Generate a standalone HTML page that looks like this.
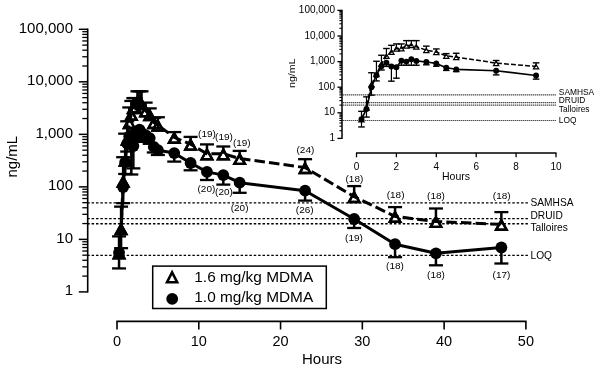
<!DOCTYPE html>
<html><head><meta charset="utf-8"><style>
html,body{margin:0;padding:0;background:#fff;}
svg{display:block;filter:grayscale(1);}
</style></head><body>
<svg width="600" height="372" viewBox="0 0 600 372">
<rect width="600" height="372" fill="#fff"/>
<line x1="87.7" y1="28.60" x2="87.7" y2="292.60" stroke="#000" stroke-width="1.6"/>
<line x1="78.8" y1="291.90" x2="87.7" y2="291.90" stroke="#000" stroke-width="1.5"/>
<line x1="82.3" y1="276.09" x2="87.7" y2="276.09" stroke="#000" stroke-width="1.3"/>
<line x1="82.3" y1="266.84" x2="87.7" y2="266.84" stroke="#000" stroke-width="1.3"/>
<line x1="82.3" y1="260.28" x2="87.7" y2="260.28" stroke="#000" stroke-width="1.3"/>
<line x1="82.3" y1="255.19" x2="87.7" y2="255.19" stroke="#000" stroke-width="1.3"/>
<line x1="82.3" y1="251.03" x2="87.7" y2="251.03" stroke="#000" stroke-width="1.3"/>
<line x1="82.3" y1="247.52" x2="87.7" y2="247.52" stroke="#000" stroke-width="1.3"/>
<line x1="82.3" y1="244.47" x2="87.7" y2="244.47" stroke="#000" stroke-width="1.3"/>
<line x1="82.3" y1="241.78" x2="87.7" y2="241.78" stroke="#000" stroke-width="1.3"/>
<line x1="78.8" y1="239.38" x2="87.7" y2="239.38" stroke="#000" stroke-width="1.5"/>
<line x1="82.3" y1="223.57" x2="87.7" y2="223.57" stroke="#000" stroke-width="1.3"/>
<line x1="82.3" y1="214.32" x2="87.7" y2="214.32" stroke="#000" stroke-width="1.3"/>
<line x1="82.3" y1="207.76" x2="87.7" y2="207.76" stroke="#000" stroke-width="1.3"/>
<line x1="82.3" y1="202.67" x2="87.7" y2="202.67" stroke="#000" stroke-width="1.3"/>
<line x1="82.3" y1="198.51" x2="87.7" y2="198.51" stroke="#000" stroke-width="1.3"/>
<line x1="82.3" y1="195.00" x2="87.7" y2="195.00" stroke="#000" stroke-width="1.3"/>
<line x1="82.3" y1="191.95" x2="87.7" y2="191.95" stroke="#000" stroke-width="1.3"/>
<line x1="82.3" y1="189.26" x2="87.7" y2="189.26" stroke="#000" stroke-width="1.3"/>
<line x1="78.8" y1="186.86" x2="87.7" y2="186.86" stroke="#000" stroke-width="1.5"/>
<line x1="82.3" y1="171.05" x2="87.7" y2="171.05" stroke="#000" stroke-width="1.3"/>
<line x1="82.3" y1="161.80" x2="87.7" y2="161.80" stroke="#000" stroke-width="1.3"/>
<line x1="82.3" y1="155.24" x2="87.7" y2="155.24" stroke="#000" stroke-width="1.3"/>
<line x1="82.3" y1="150.15" x2="87.7" y2="150.15" stroke="#000" stroke-width="1.3"/>
<line x1="82.3" y1="145.99" x2="87.7" y2="145.99" stroke="#000" stroke-width="1.3"/>
<line x1="82.3" y1="142.48" x2="87.7" y2="142.48" stroke="#000" stroke-width="1.3"/>
<line x1="82.3" y1="139.43" x2="87.7" y2="139.43" stroke="#000" stroke-width="1.3"/>
<line x1="82.3" y1="136.74" x2="87.7" y2="136.74" stroke="#000" stroke-width="1.3"/>
<line x1="78.8" y1="134.34" x2="87.7" y2="134.34" stroke="#000" stroke-width="1.5"/>
<line x1="82.3" y1="118.53" x2="87.7" y2="118.53" stroke="#000" stroke-width="1.3"/>
<line x1="82.3" y1="109.28" x2="87.7" y2="109.28" stroke="#000" stroke-width="1.3"/>
<line x1="82.3" y1="102.72" x2="87.7" y2="102.72" stroke="#000" stroke-width="1.3"/>
<line x1="82.3" y1="97.63" x2="87.7" y2="97.63" stroke="#000" stroke-width="1.3"/>
<line x1="82.3" y1="93.47" x2="87.7" y2="93.47" stroke="#000" stroke-width="1.3"/>
<line x1="82.3" y1="89.96" x2="87.7" y2="89.96" stroke="#000" stroke-width="1.3"/>
<line x1="82.3" y1="86.91" x2="87.7" y2="86.91" stroke="#000" stroke-width="1.3"/>
<line x1="82.3" y1="84.22" x2="87.7" y2="84.22" stroke="#000" stroke-width="1.3"/>
<line x1="78.8" y1="81.82" x2="87.7" y2="81.82" stroke="#000" stroke-width="1.5"/>
<line x1="82.3" y1="66.01" x2="87.7" y2="66.01" stroke="#000" stroke-width="1.3"/>
<line x1="82.3" y1="56.76" x2="87.7" y2="56.76" stroke="#000" stroke-width="1.3"/>
<line x1="82.3" y1="50.20" x2="87.7" y2="50.20" stroke="#000" stroke-width="1.3"/>
<line x1="82.3" y1="45.11" x2="87.7" y2="45.11" stroke="#000" stroke-width="1.3"/>
<line x1="82.3" y1="40.95" x2="87.7" y2="40.95" stroke="#000" stroke-width="1.3"/>
<line x1="82.3" y1="37.44" x2="87.7" y2="37.44" stroke="#000" stroke-width="1.3"/>
<line x1="82.3" y1="34.39" x2="87.7" y2="34.39" stroke="#000" stroke-width="1.3"/>
<line x1="82.3" y1="31.70" x2="87.7" y2="31.70" stroke="#000" stroke-width="1.3"/>
<line x1="78.8" y1="29.30" x2="87.7" y2="29.30" stroke="#000" stroke-width="1.5"/>
<text x="73" y="295.10" text-anchor="end" font-size="15" font-family="'Liberation Sans', sans-serif">1</text>
<text x="73" y="242.58" text-anchor="end" font-size="15" font-family="'Liberation Sans', sans-serif">10</text>
<text x="73" y="190.06" text-anchor="end" font-size="15" font-family="'Liberation Sans', sans-serif">100</text>
<text x="73" y="137.54" text-anchor="end" font-size="15" font-family="'Liberation Sans', sans-serif">1,000</text>
<text x="73" y="85.02" text-anchor="end" font-size="15" font-family="'Liberation Sans', sans-serif">10,000</text>
<text x="73" y="32.50" text-anchor="end" font-size="15" font-family="'Liberation Sans', sans-serif">100,000</text>
<text transform="translate(17.2,156.7) rotate(-90)" text-anchor="middle" font-size="15" font-family="'Liberation Sans', sans-serif">ng/mL</text>
<line x1="116.30" y1="321.4" x2="526.60" y2="321.4" stroke="#000" stroke-width="1.6"/>
<line x1="117.00" y1="321.4" x2="117.00" y2="329.5" stroke="#000" stroke-width="1.6"/>
<text x="117.00" y="346" text-anchor="middle" font-size="14.5" font-family="'Liberation Sans', sans-serif">0</text>
<line x1="198.78" y1="321.4" x2="198.78" y2="329.5" stroke="#000" stroke-width="1.6"/>
<text x="198.78" y="346" text-anchor="middle" font-size="14.5" font-family="'Liberation Sans', sans-serif">10</text>
<line x1="280.56" y1="321.4" x2="280.56" y2="329.5" stroke="#000" stroke-width="1.6"/>
<text x="280.56" y="346" text-anchor="middle" font-size="14.5" font-family="'Liberation Sans', sans-serif">20</text>
<line x1="362.34" y1="321.4" x2="362.34" y2="329.5" stroke="#000" stroke-width="1.6"/>
<text x="362.34" y="346" text-anchor="middle" font-size="14.5" font-family="'Liberation Sans', sans-serif">30</text>
<line x1="444.12" y1="321.4" x2="444.12" y2="329.5" stroke="#000" stroke-width="1.6"/>
<text x="444.12" y="346" text-anchor="middle" font-size="14.5" font-family="'Liberation Sans', sans-serif">40</text>
<line x1="525.90" y1="321.4" x2="525.90" y2="329.5" stroke="#000" stroke-width="1.6"/>
<text x="525.90" y="346" text-anchor="middle" font-size="14.5" font-family="'Liberation Sans', sans-serif">50</text>
<text x="322" y="364.4" text-anchor="middle" font-size="15" font-family="'Liberation Sans', sans-serif">Hours</text>
<line x1="87.22" y1="202.87" x2="527.9" y2="202.87" stroke="#000" stroke-width="1.3" stroke-dasharray="2.5,1.882"/>
<text x="530.5" y="205.6" font-size="10.2" font-family="'Liberation Sans', sans-serif">SAMHSA</text>
<line x1="87.22" y1="218.68" x2="527.9" y2="218.68" stroke="#000" stroke-width="1.3" stroke-dasharray="2.5,1.882"/>
<text x="530.5" y="219.3" font-size="10.2" font-family="'Liberation Sans', sans-serif">DRUID</text>
<line x1="87.22" y1="223.77" x2="527.9" y2="223.77" stroke="#000" stroke-width="1.3" stroke-dasharray="2.5,1.882"/>
<text x="530.5" y="230.7" font-size="10.2" font-family="'Liberation Sans', sans-serif">Talloires</text>
<line x1="87.22" y1="255.39" x2="527.9" y2="255.39" stroke="#000" stroke-width="1.3" stroke-dasharray="2.5,1.882"/>
<text x="530.5" y="258.8" font-size="10.2" font-family="'Liberation Sans', sans-serif">LOQ</text>
<polygon points="119.04,248.90 124.31,258.42 113.78,258.42" fill="#fff" stroke="#000" stroke-width="2.4" stroke-linejoin="miter" stroke-miterlimit="10"/>
<polygon points="121.09,224.54 126.35,234.06 115.82,234.06" fill="#fff" stroke="#000" stroke-width="2.4" stroke-linejoin="miter" stroke-miterlimit="10"/>
<polygon points="123.13,177.11 128.40,186.63 117.87,186.63" fill="#fff" stroke="#000" stroke-width="2.4" stroke-linejoin="miter" stroke-miterlimit="10"/>
<polygon points="125.18,156.00 130.44,165.52 119.91,165.52" fill="#fff" stroke="#000" stroke-width="2.4" stroke-linejoin="miter" stroke-miterlimit="10"/>
<polygon points="127.22,135.03 132.49,144.55 121.96,144.55" fill="#fff" stroke="#000" stroke-width="2.4" stroke-linejoin="miter" stroke-miterlimit="10"/>
<polygon points="129.27,118.52 134.53,128.04 124.00,128.04" fill="#fff" stroke="#000" stroke-width="2.4" stroke-linejoin="miter" stroke-miterlimit="10"/>
<polygon points="131.31,110.16 136.58,119.68 126.05,119.68" fill="#fff" stroke="#000" stroke-width="2.4" stroke-linejoin="miter" stroke-miterlimit="10"/>
<polygon points="133.36,103.48 138.62,113.00 128.09,113.00" fill="#fff" stroke="#000" stroke-width="2.4" stroke-linejoin="miter" stroke-miterlimit="10"/>
<polygon points="135.40,102.99 140.67,112.51 130.14,112.51" fill="#fff" stroke="#000" stroke-width="2.4" stroke-linejoin="miter" stroke-miterlimit="10"/>
<polygon points="137.44,97.65 142.71,107.17 132.18,107.17" fill="#fff" stroke="#000" stroke-width="2.4" stroke-linejoin="miter" stroke-miterlimit="10"/>
<polygon points="139.49,96.53 144.75,106.05 134.22,106.05" fill="#fff" stroke="#000" stroke-width="2.4" stroke-linejoin="miter" stroke-miterlimit="10"/>
<polygon points="141.53,99.59 146.80,109.11 136.27,109.11" fill="#fff" stroke="#000" stroke-width="2.4" stroke-linejoin="miter" stroke-miterlimit="10"/>
<polygon points="145.62,106.73 150.89,116.26 140.36,116.26" fill="#fff" stroke="#000" stroke-width="2.4" stroke-linejoin="miter" stroke-miterlimit="10"/>
<polygon points="149.71,110.63 154.98,120.15 144.45,120.15" fill="#fff" stroke="#000" stroke-width="2.4" stroke-linejoin="miter" stroke-miterlimit="10"/>
<polygon points="153.80,118.45 159.07,127.97 148.54,127.97" fill="#fff" stroke="#000" stroke-width="2.4" stroke-linejoin="miter" stroke-miterlimit="10"/>
<polygon points="157.89,120.97 163.16,130.49 152.62,130.49" fill="#fff" stroke="#000" stroke-width="2.4" stroke-linejoin="miter" stroke-miterlimit="10"/>
<polygon points="174.25,133.28 179.51,142.80 168.98,142.80" fill="#fff" stroke="#000" stroke-width="2.4" stroke-linejoin="miter" stroke-miterlimit="10"/>
<polygon points="190.60,140.08 195.87,149.60 185.34,149.60" fill="#fff" stroke="#000" stroke-width="2.4" stroke-linejoin="miter" stroke-miterlimit="10"/>
<polygon points="206.96,149.68 212.22,159.20 201.69,159.20" fill="#fff" stroke="#000" stroke-width="2.4" stroke-linejoin="miter" stroke-miterlimit="10"/>
<polygon points="223.31,149.68 228.58,159.20 218.05,159.20" fill="#fff" stroke="#000" stroke-width="2.4" stroke-linejoin="miter" stroke-miterlimit="10"/>
<polygon points="239.67,154.38 244.94,163.90 234.40,163.90" fill="#fff" stroke="#000" stroke-width="2.4" stroke-linejoin="miter" stroke-miterlimit="10"/>
<polygon points="305.09,163.48 310.36,173.00 299.83,173.00" fill="#fff" stroke="#000" stroke-width="2.4" stroke-linejoin="miter" stroke-miterlimit="10"/>
<polygon points="354.16,192.48 359.43,202.00 348.90,202.00" fill="#fff" stroke="#000" stroke-width="2.4" stroke-linejoin="miter" stroke-miterlimit="10"/>
<polygon points="395.05,212.28 400.32,221.80 389.79,221.80" fill="#fff" stroke="#000" stroke-width="2.4" stroke-linejoin="miter" stroke-miterlimit="10"/>
<polygon points="435.94,217.38 441.21,226.90 430.68,226.90" fill="#fff" stroke="#000" stroke-width="2.4" stroke-linejoin="miter" stroke-miterlimit="10"/>
<polygon points="501.37,220.28 506.63,229.80 496.10,229.80" fill="#fff" stroke="#000" stroke-width="2.4" stroke-linejoin="miter" stroke-miterlimit="10"/>
<polyline points="119.04,253.02 121.09,228.66 123.13,181.23 125.18,160.12 127.22,139.15 129.27,122.64 131.31,114.28 133.36,107.60 135.40,107.11 137.44,101.77 139.49,100.65 141.53,103.71 145.62,110.86 149.71,114.75 153.80,122.57 157.89,125.09 174.25,137.40 190.60,144.20 206.96,153.80 223.31,153.80 239.67,158.50 305.09,167.60 354.16,196.60 395.05,216.40 435.94,221.50 501.37,224.40" fill="none" stroke="#000" stroke-width="3" stroke-dasharray="10.5,4.15" stroke-dashoffset="14.39" stroke-linejoin="round"/>
<polyline points="119.04,252.61 121.09,231.71 123.13,187.09 125.18,162.18 127.22,143.65 129.27,136.49 131.31,144.52 133.36,145.99 135.40,132.37 137.44,134.34 139.49,129.62 141.53,132.90 145.62,135.15 149.71,138.05 153.80,146.88 157.89,150.20 174.25,153.10 190.60,163.00 206.96,171.90 223.31,175.10 239.67,182.70 305.09,190.70 354.16,219.00 395.05,244.20 435.94,253.30 501.37,247.50" fill="none" stroke="#000" stroke-width="3" stroke-linejoin="round"/>
<line x1="119.04" y1="253.02" x2="119.04" y2="236.39" stroke="#000" stroke-width="2.5"/><line x1="112.04" y1="236.39" x2="126.04" y2="236.39" stroke="#000" stroke-width="2.3"/>
<line x1="121.09" y1="228.66" x2="121.09" y2="206.65" stroke="#000" stroke-width="2.5"/><line x1="114.09" y1="206.65" x2="128.09" y2="206.65" stroke="#000" stroke-width="2.3"/>
<line x1="123.13" y1="181.23" x2="123.13" y2="157.20" stroke="#000" stroke-width="2.5"/><line x1="116.13" y1="157.20" x2="130.13" y2="157.20" stroke="#000" stroke-width="2.3"/>
<line x1="125.18" y1="160.12" x2="125.18" y2="133.67" stroke="#000" stroke-width="2.5"/><line x1="118.18" y1="133.67" x2="132.18" y2="133.67" stroke="#000" stroke-width="2.3"/>
<line x1="127.22" y1="139.15" x2="127.22" y2="121.32" stroke="#000" stroke-width="2.5"/><line x1="120.22" y1="121.32" x2="134.22" y2="121.32" stroke="#000" stroke-width="2.3"/>
<line x1="129.27" y1="122.64" x2="129.27" y2="107.46" stroke="#000" stroke-width="2.5"/><line x1="122.27" y1="107.46" x2="136.27" y2="107.46" stroke="#000" stroke-width="2.3"/>
<line x1="131.31" y1="114.28" x2="131.31" y2="100.96" stroke="#000" stroke-width="2.5"/><line x1="124.31" y1="100.96" x2="138.31" y2="100.96" stroke="#000" stroke-width="2.3"/>
<line x1="133.36" y1="107.60" x2="133.36" y2="98.09" stroke="#000" stroke-width="2.5"/><line x1="126.36" y1="98.09" x2="140.36" y2="98.09" stroke="#000" stroke-width="2.3"/>
<line x1="135.40" y1="107.11" x2="135.40" y2="98.09" stroke="#000" stroke-width="2.5"/><line x1="128.40" y1="98.09" x2="142.40" y2="98.09" stroke="#000" stroke-width="2.3"/>
<line x1="137.44" y1="101.77" x2="137.44" y2="91.30" stroke="#000" stroke-width="2.5"/><line x1="130.44" y1="91.30" x2="144.44" y2="91.30" stroke="#000" stroke-width="2.3"/>
<line x1="139.49" y1="100.65" x2="139.49" y2="91.30" stroke="#000" stroke-width="2.5"/><line x1="132.49" y1="91.30" x2="146.49" y2="91.30" stroke="#000" stroke-width="2.3"/>
<line x1="141.53" y1="103.71" x2="141.53" y2="91.30" stroke="#000" stroke-width="2.5"/><line x1="134.53" y1="91.30" x2="148.53" y2="91.30" stroke="#000" stroke-width="2.3"/>
<line x1="145.62" y1="110.86" x2="145.62" y2="102.61" stroke="#000" stroke-width="2.5"/><line x1="138.62" y1="102.61" x2="152.62" y2="102.61" stroke="#000" stroke-width="2.3"/>
<line x1="149.71" y1="114.75" x2="149.71" y2="108.39" stroke="#000" stroke-width="2.5"/><line x1="142.71" y1="108.39" x2="156.71" y2="108.39" stroke="#000" stroke-width="2.3"/>
<line x1="153.80" y1="122.57" x2="153.80" y2="117.97" stroke="#000" stroke-width="2.5"/><line x1="146.80" y1="117.97" x2="160.80" y2="117.97" stroke="#000" stroke-width="2.3"/>
<line x1="157.89" y1="125.09" x2="157.89" y2="117.25" stroke="#000" stroke-width="2.5"/><line x1="150.89" y1="117.25" x2="164.89" y2="117.25" stroke="#000" stroke-width="2.3"/>
<line x1="174.25" y1="137.40" x2="174.25" y2="132.10" stroke="#000" stroke-width="2.5"/><line x1="167.25" y1="132.10" x2="181.25" y2="132.10" stroke="#000" stroke-width="2.3"/>
<line x1="190.60" y1="144.20" x2="190.60" y2="136.90" stroke="#000" stroke-width="2.5"/><line x1="183.60" y1="136.90" x2="197.60" y2="136.90" stroke="#000" stroke-width="2.3"/>
<line x1="206.96" y1="153.80" x2="206.96" y2="144.40" stroke="#000" stroke-width="2.5"/><line x1="199.96" y1="144.40" x2="213.96" y2="144.40" stroke="#000" stroke-width="2.3"/>
<line x1="223.31" y1="153.80" x2="223.31" y2="146.50" stroke="#000" stroke-width="2.5"/><line x1="216.31" y1="146.50" x2="230.31" y2="146.50" stroke="#000" stroke-width="2.3"/>
<line x1="239.67" y1="158.50" x2="239.67" y2="150.90" stroke="#000" stroke-width="2.5"/><line x1="232.67" y1="150.90" x2="246.67" y2="150.90" stroke="#000" stroke-width="2.3"/>
<line x1="305.09" y1="167.60" x2="305.09" y2="159.20" stroke="#000" stroke-width="2.5"/><line x1="298.09" y1="159.20" x2="312.09" y2="159.20" stroke="#000" stroke-width="2.3"/>
<line x1="354.16" y1="196.60" x2="354.16" y2="186.10" stroke="#000" stroke-width="2.5"/><line x1="347.16" y1="186.10" x2="361.16" y2="186.10" stroke="#000" stroke-width="2.3"/>
<line x1="395.05" y1="216.40" x2="395.05" y2="207.10" stroke="#000" stroke-width="2.5"/><line x1="388.05" y1="207.10" x2="402.05" y2="207.10" stroke="#000" stroke-width="2.3"/>
<line x1="435.94" y1="221.50" x2="435.94" y2="208.50" stroke="#000" stroke-width="2.5"/><line x1="428.94" y1="208.50" x2="442.94" y2="208.50" stroke="#000" stroke-width="2.3"/>
<line x1="501.37" y1="224.40" x2="501.37" y2="212.10" stroke="#000" stroke-width="2.5"/><line x1="494.37" y1="212.10" x2="508.37" y2="212.10" stroke="#000" stroke-width="2.3"/>
<line x1="119.04" y1="252.61" x2="119.04" y2="268.42" stroke="#000" stroke-width="2.5"/><line x1="112.04" y1="268.42" x2="126.04" y2="268.42" stroke="#000" stroke-width="2.3"/>
<line x1="121.09" y1="231.71" x2="121.09" y2="248.18" stroke="#000" stroke-width="2.5"/><line x1="114.09" y1="248.18" x2="128.09" y2="248.18" stroke="#000" stroke-width="2.3"/>
<line x1="123.13" y1="187.09" x2="123.13" y2="203.13" stroke="#000" stroke-width="2.5"/><line x1="116.13" y1="203.13" x2="130.13" y2="203.13" stroke="#000" stroke-width="2.3"/>
<line x1="125.18" y1="162.18" x2="125.18" y2="173.97" stroke="#000" stroke-width="2.5"/><line x1="118.18" y1="173.97" x2="132.18" y2="173.97" stroke="#000" stroke-width="2.3"/>
<line x1="127.22" y1="143.65" x2="127.22" y2="151.56" stroke="#000" stroke-width="2.5"/><line x1="120.22" y1="151.56" x2="134.22" y2="151.56" stroke="#000" stroke-width="2.3"/>
<line x1="129.27" y1="136.49" x2="129.27" y2="144.17" stroke="#000" stroke-width="2.5"/><line x1="122.27" y1="144.17" x2="136.27" y2="144.17" stroke="#000" stroke-width="2.3"/>
<line x1="131.31" y1="144.52" x2="131.31" y2="174.49" stroke="#000" stroke-width="2.5"/><line x1="124.31" y1="174.49" x2="138.31" y2="174.49" stroke="#000" stroke-width="2.3"/>
<line x1="133.36" y1="145.99" x2="133.36" y2="168.36" stroke="#000" stroke-width="2.5"/><line x1="126.36" y1="168.36" x2="140.36" y2="168.36" stroke="#000" stroke-width="2.3"/>
<line x1="135.40" y1="132.37" x2="135.40" y2="141.83" stroke="#000" stroke-width="2.5"/><line x1="128.40" y1="141.83" x2="142.40" y2="141.83" stroke="#000" stroke-width="2.3"/>
<line x1="137.44" y1="134.34" x2="137.44" y2="141.83" stroke="#000" stroke-width="2.5"/><line x1="130.44" y1="141.83" x2="144.44" y2="141.83" stroke="#000" stroke-width="2.3"/>
<line x1="139.49" y1="129.62" x2="139.49" y2="141.83" stroke="#000" stroke-width="2.5"/><line x1="132.49" y1="141.83" x2="146.49" y2="141.83" stroke="#000" stroke-width="2.3"/>
<line x1="141.53" y1="132.90" x2="141.53" y2="141.83" stroke="#000" stroke-width="2.5"/><line x1="134.53" y1="141.83" x2="148.53" y2="141.83" stroke="#000" stroke-width="2.3"/>
<line x1="145.62" y1="135.15" x2="145.62" y2="140.90" stroke="#000" stroke-width="2.5"/><line x1="138.62" y1="140.90" x2="152.62" y2="140.90" stroke="#000" stroke-width="2.3"/>
<line x1="149.71" y1="138.05" x2="149.71" y2="143.82" stroke="#000" stroke-width="2.5"/><line x1="142.71" y1="143.82" x2="156.71" y2="143.82" stroke="#000" stroke-width="2.3"/>
<line x1="153.80" y1="146.88" x2="153.80" y2="152.45" stroke="#000" stroke-width="2.5"/><line x1="146.80" y1="152.45" x2="160.80" y2="152.45" stroke="#000" stroke-width="2.3"/>
<line x1="157.89" y1="150.20" x2="157.89" y2="154.96" stroke="#000" stroke-width="2.5"/><line x1="150.89" y1="154.96" x2="164.89" y2="154.96" stroke="#000" stroke-width="2.3"/>
<line x1="174.25" y1="153.10" x2="174.25" y2="161.60" stroke="#000" stroke-width="2.5"/><line x1="167.25" y1="161.60" x2="181.25" y2="161.60" stroke="#000" stroke-width="2.3"/>
<line x1="190.60" y1="163.00" x2="190.60" y2="170.30" stroke="#000" stroke-width="2.5"/><line x1="183.60" y1="170.30" x2="197.60" y2="170.30" stroke="#000" stroke-width="2.3"/>
<line x1="206.96" y1="171.90" x2="206.96" y2="180.00" stroke="#000" stroke-width="2.5"/><line x1="199.96" y1="180.00" x2="213.96" y2="180.00" stroke="#000" stroke-width="2.3"/>
<line x1="223.31" y1="175.10" x2="223.31" y2="184.60" stroke="#000" stroke-width="2.5"/><line x1="216.31" y1="184.60" x2="230.31" y2="184.60" stroke="#000" stroke-width="2.3"/>
<line x1="239.67" y1="182.70" x2="239.67" y2="192.80" stroke="#000" stroke-width="2.5"/><line x1="232.67" y1="192.80" x2="246.67" y2="192.80" stroke="#000" stroke-width="2.3"/>
<line x1="305.09" y1="190.70" x2="305.09" y2="200.60" stroke="#000" stroke-width="2.5"/><line x1="298.09" y1="200.60" x2="312.09" y2="200.60" stroke="#000" stroke-width="2.3"/>
<line x1="354.16" y1="219.00" x2="354.16" y2="228.00" stroke="#000" stroke-width="2.5"/><line x1="347.16" y1="228.00" x2="361.16" y2="228.00" stroke="#000" stroke-width="2.3"/>
<line x1="395.05" y1="244.20" x2="395.05" y2="257.20" stroke="#000" stroke-width="2.5"/><line x1="388.05" y1="257.20" x2="402.05" y2="257.20" stroke="#000" stroke-width="2.3"/>
<line x1="435.94" y1="253.30" x2="435.94" y2="265.30" stroke="#000" stroke-width="2.5"/><line x1="428.94" y1="265.30" x2="442.94" y2="265.30" stroke="#000" stroke-width="2.3"/>
<line x1="501.37" y1="247.50" x2="501.37" y2="263.50" stroke="#000" stroke-width="2.5"/><line x1="494.37" y1="263.50" x2="508.37" y2="263.50" stroke="#000" stroke-width="2.3"/>
<polygon points="119.04,248.90 124.31,258.42 113.78,258.42" fill="none" stroke="#000" stroke-width="2.4" stroke-linejoin="miter" stroke-miterlimit="10"/>
<polygon points="121.09,224.54 126.35,234.06 115.82,234.06" fill="#000" stroke="#000" stroke-width="2.4" stroke-linejoin="miter" stroke-miterlimit="10"/>
<polygon points="123.13,177.11 128.40,186.63 117.87,186.63" fill="none" stroke="#000" stroke-width="2.4" stroke-linejoin="miter" stroke-miterlimit="10"/>
<polygon points="125.18,156.00 130.44,165.52 119.91,165.52" fill="none" stroke="#000" stroke-width="2.4" stroke-linejoin="miter" stroke-miterlimit="10"/>
<polygon points="127.22,135.03 132.49,144.55 121.96,144.55" fill="none" stroke="#000" stroke-width="2.4" stroke-linejoin="miter" stroke-miterlimit="10"/>
<polygon points="129.27,118.52 134.53,128.04 124.00,128.04" fill="none" stroke="#000" stroke-width="2.4" stroke-linejoin="miter" stroke-miterlimit="10"/>
<polygon points="131.31,110.16 136.58,119.68 126.05,119.68" fill="none" stroke="#000" stroke-width="2.4" stroke-linejoin="miter" stroke-miterlimit="10"/>
<polygon points="133.36,103.48 138.62,113.00 128.09,113.00" fill="none" stroke="#000" stroke-width="2.4" stroke-linejoin="miter" stroke-miterlimit="10"/>
<polygon points="135.40,102.99 140.67,112.51 130.14,112.51" fill="none" stroke="#000" stroke-width="2.4" stroke-linejoin="miter" stroke-miterlimit="10"/>
<polygon points="137.44,97.65 142.71,107.17 132.18,107.17" fill="none" stroke="#000" stroke-width="2.4" stroke-linejoin="miter" stroke-miterlimit="10"/>
<polygon points="139.49,96.53 144.75,106.05 134.22,106.05" fill="none" stroke="#000" stroke-width="2.4" stroke-linejoin="miter" stroke-miterlimit="10"/>
<polygon points="141.53,99.59 146.80,109.11 136.27,109.11" fill="none" stroke="#000" stroke-width="2.4" stroke-linejoin="miter" stroke-miterlimit="10"/>
<polygon points="145.62,106.73 150.89,116.26 140.36,116.26" fill="none" stroke="#000" stroke-width="2.4" stroke-linejoin="miter" stroke-miterlimit="10"/>
<polygon points="149.71,110.63 154.98,120.15 144.45,120.15" fill="none" stroke="#000" stroke-width="2.4" stroke-linejoin="miter" stroke-miterlimit="10"/>
<polygon points="153.80,118.45 159.07,127.97 148.54,127.97" fill="none" stroke="#000" stroke-width="2.4" stroke-linejoin="miter" stroke-miterlimit="10"/>
<polygon points="157.89,120.97 163.16,130.49 152.62,130.49" fill="none" stroke="#000" stroke-width="2.4" stroke-linejoin="miter" stroke-miterlimit="10"/>
<polygon points="174.25,133.28 179.51,142.80 168.98,142.80" fill="none" stroke="#000" stroke-width="2.4" stroke-linejoin="miter" stroke-miterlimit="10"/>
<polygon points="190.60,140.08 195.87,149.60 185.34,149.60" fill="none" stroke="#000" stroke-width="2.4" stroke-linejoin="miter" stroke-miterlimit="10"/>
<polygon points="206.96,149.68 212.22,159.20 201.69,159.20" fill="none" stroke="#000" stroke-width="2.4" stroke-linejoin="miter" stroke-miterlimit="10"/>
<polygon points="223.31,149.68 228.58,159.20 218.05,159.20" fill="none" stroke="#000" stroke-width="2.4" stroke-linejoin="miter" stroke-miterlimit="10"/>
<polygon points="239.67,154.38 244.94,163.90 234.40,163.90" fill="none" stroke="#000" stroke-width="2.4" stroke-linejoin="miter" stroke-miterlimit="10"/>
<polygon points="305.09,163.48 310.36,173.00 299.83,173.00" fill="none" stroke="#000" stroke-width="2.4" stroke-linejoin="miter" stroke-miterlimit="10"/>
<polygon points="354.16,192.48 359.43,202.00 348.90,202.00" fill="none" stroke="#000" stroke-width="2.4" stroke-linejoin="miter" stroke-miterlimit="10"/>
<polygon points="395.05,212.28 400.32,221.80 389.79,221.80" fill="none" stroke="#000" stroke-width="2.4" stroke-linejoin="miter" stroke-miterlimit="10"/>
<polygon points="435.94,217.38 441.21,226.90 430.68,226.90" fill="none" stroke="#000" stroke-width="2.4" stroke-linejoin="miter" stroke-miterlimit="10"/>
<polygon points="501.37,220.28 506.63,229.80 496.10,229.80" fill="none" stroke="#000" stroke-width="2.4" stroke-linejoin="miter" stroke-miterlimit="10"/>
<circle cx="119.04" cy="252.61" r="5.90" fill="#000"/>
<circle cx="123.13" cy="187.09" r="5.90" fill="#000"/>
<circle cx="125.18" cy="162.18" r="5.90" fill="#000"/>
<circle cx="127.22" cy="143.65" r="5.90" fill="#000"/>
<circle cx="129.27" cy="136.49" r="5.90" fill="#000"/>
<circle cx="131.31" cy="144.52" r="5.90" fill="#000"/>
<circle cx="133.36" cy="145.99" r="5.90" fill="#000"/>
<circle cx="135.40" cy="132.37" r="5.90" fill="#000"/>
<circle cx="137.44" cy="134.34" r="5.90" fill="#000"/>
<circle cx="139.49" cy="129.62" r="5.90" fill="#000"/>
<circle cx="141.53" cy="132.90" r="5.90" fill="#000"/>
<circle cx="145.62" cy="135.15" r="5.90" fill="#000"/>
<circle cx="149.71" cy="138.05" r="5.90" fill="#000"/>
<circle cx="153.80" cy="146.88" r="5.90" fill="#000"/>
<circle cx="157.89" cy="150.20" r="5.90" fill="#000"/>
<circle cx="174.25" cy="153.10" r="5.90" fill="#000"/>
<circle cx="190.60" cy="163.00" r="5.90" fill="#000"/>
<circle cx="206.96" cy="171.90" r="5.90" fill="#000"/>
<circle cx="223.31" cy="175.10" r="5.90" fill="#000"/>
<circle cx="239.67" cy="182.70" r="5.90" fill="#000"/>
<circle cx="305.09" cy="190.70" r="5.90" fill="#000"/>
<circle cx="354.16" cy="219.00" r="5.90" fill="#000"/>
<circle cx="395.05" cy="244.20" r="5.90" fill="#000"/>
<circle cx="435.94" cy="253.30" r="5.90" fill="#000"/>
<circle cx="501.37" cy="247.50" r="5.90" fill="#000"/>
<text transform="translate(207,137.47) scale(1,0.83)" text-anchor="middle" font-size="10" font-family="'Liberation Sans', sans-serif">(19)</text>
<text transform="translate(224,140.27) scale(1,0.83)" text-anchor="middle" font-size="10" font-family="'Liberation Sans', sans-serif">(19)</text>
<text transform="translate(241.8,145.87) scale(1,0.83)" text-anchor="middle" font-size="10" font-family="'Liberation Sans', sans-serif">(19)</text>
<text transform="translate(206.4,191.67) scale(1,0.83)" text-anchor="middle" font-size="10" font-family="'Liberation Sans', sans-serif">(20)</text>
<text transform="translate(224,194.57) scale(1,0.83)" text-anchor="middle" font-size="10" font-family="'Liberation Sans', sans-serif">(20)</text>
<text transform="translate(239.6,211.27) scale(1,0.83)" text-anchor="middle" font-size="10" font-family="'Liberation Sans', sans-serif">(20)</text>
<text transform="translate(305.4,152.57) scale(1,0.83)" text-anchor="middle" font-size="10" font-family="'Liberation Sans', sans-serif">(24)</text>
<text transform="translate(304.7,213.47) scale(1,0.83)" text-anchor="middle" font-size="10" font-family="'Liberation Sans', sans-serif">(26)</text>
<text transform="translate(354.4,181.97) scale(1,0.83)" text-anchor="middle" font-size="10" font-family="'Liberation Sans', sans-serif">(18)</text>
<text transform="translate(354,240.67) scale(1,0.83)" text-anchor="middle" font-size="10" font-family="'Liberation Sans', sans-serif">(19)</text>
<text transform="translate(395.6,198.37) scale(1,0.83)" text-anchor="middle" font-size="10" font-family="'Liberation Sans', sans-serif">(18)</text>
<text transform="translate(395,268.97) scale(1,0.83)" text-anchor="middle" font-size="10" font-family="'Liberation Sans', sans-serif">(18)</text>
<text transform="translate(436,198.77) scale(1,0.83)" text-anchor="middle" font-size="10" font-family="'Liberation Sans', sans-serif">(18)</text>
<text transform="translate(436,278.27) scale(1,0.83)" text-anchor="middle" font-size="10" font-family="'Liberation Sans', sans-serif">(18)</text>
<text transform="translate(501.7,199.37) scale(1,0.83)" text-anchor="middle" font-size="10" font-family="'Liberation Sans', sans-serif">(18)</text>
<text transform="translate(501.5,277.97) scale(1,0.83)" text-anchor="middle" font-size="10" font-family="'Liberation Sans', sans-serif">(17)</text>
<rect x="152.7" y="266.1" width="173.6" height="42.4" fill="#fff" stroke="#000" stroke-width="1.5"/>
<polygon points="172.10,272.33 177.25,282.35 166.95,282.35" fill="none" stroke="#000" stroke-width="2.5" stroke-linejoin="miter" stroke-miterlimit="10"/>
<circle cx="172.20" cy="298.80" r="5.90" fill="#000"/>
<text x="194.3" y="282.3" font-size="15.4" font-family="'Liberation Sans', sans-serif">1.6 mg/kg MDMA</text>
<text x="194.3" y="302.4" font-size="15.4" font-family="'Liberation Sans', sans-serif">1.0 mg/kg MDMA</text>
<line x1="342.0" y1="9.80" x2="342.0" y2="139.00" stroke="#000" stroke-width="1.5"/>
<line x1="337.4" y1="138.40" x2="342.0" y2="138.40" stroke="#000" stroke-width="1.3"/>
<line x1="339.4" y1="130.69" x2="342.0" y2="130.69" stroke="#000" stroke-width="1.1"/>
<line x1="339.4" y1="126.19" x2="342.0" y2="126.19" stroke="#000" stroke-width="1.1"/>
<line x1="339.4" y1="122.99" x2="342.0" y2="122.99" stroke="#000" stroke-width="1.1"/>
<line x1="339.4" y1="120.51" x2="342.0" y2="120.51" stroke="#000" stroke-width="1.1"/>
<line x1="339.4" y1="118.48" x2="342.0" y2="118.48" stroke="#000" stroke-width="1.1"/>
<line x1="339.4" y1="116.77" x2="342.0" y2="116.77" stroke="#000" stroke-width="1.1"/>
<line x1="339.4" y1="115.28" x2="342.0" y2="115.28" stroke="#000" stroke-width="1.1"/>
<line x1="339.4" y1="113.97" x2="342.0" y2="113.97" stroke="#000" stroke-width="1.1"/>
<line x1="337.4" y1="112.80" x2="342.0" y2="112.80" stroke="#000" stroke-width="1.3"/>
<line x1="339.4" y1="105.09" x2="342.0" y2="105.09" stroke="#000" stroke-width="1.1"/>
<line x1="339.4" y1="100.59" x2="342.0" y2="100.59" stroke="#000" stroke-width="1.1"/>
<line x1="339.4" y1="97.39" x2="342.0" y2="97.39" stroke="#000" stroke-width="1.1"/>
<line x1="339.4" y1="94.91" x2="342.0" y2="94.91" stroke="#000" stroke-width="1.1"/>
<line x1="339.4" y1="92.88" x2="342.0" y2="92.88" stroke="#000" stroke-width="1.1"/>
<line x1="339.4" y1="91.17" x2="342.0" y2="91.17" stroke="#000" stroke-width="1.1"/>
<line x1="339.4" y1="89.68" x2="342.0" y2="89.68" stroke="#000" stroke-width="1.1"/>
<line x1="339.4" y1="88.37" x2="342.0" y2="88.37" stroke="#000" stroke-width="1.1"/>
<line x1="337.4" y1="87.20" x2="342.0" y2="87.20" stroke="#000" stroke-width="1.3"/>
<line x1="339.4" y1="79.49" x2="342.0" y2="79.49" stroke="#000" stroke-width="1.1"/>
<line x1="339.4" y1="74.99" x2="342.0" y2="74.99" stroke="#000" stroke-width="1.1"/>
<line x1="339.4" y1="71.79" x2="342.0" y2="71.79" stroke="#000" stroke-width="1.1"/>
<line x1="339.4" y1="69.31" x2="342.0" y2="69.31" stroke="#000" stroke-width="1.1"/>
<line x1="339.4" y1="67.28" x2="342.0" y2="67.28" stroke="#000" stroke-width="1.1"/>
<line x1="339.4" y1="65.57" x2="342.0" y2="65.57" stroke="#000" stroke-width="1.1"/>
<line x1="339.4" y1="64.08" x2="342.0" y2="64.08" stroke="#000" stroke-width="1.1"/>
<line x1="339.4" y1="62.77" x2="342.0" y2="62.77" stroke="#000" stroke-width="1.1"/>
<line x1="337.4" y1="61.60" x2="342.0" y2="61.60" stroke="#000" stroke-width="1.3"/>
<line x1="339.4" y1="53.89" x2="342.0" y2="53.89" stroke="#000" stroke-width="1.1"/>
<line x1="339.4" y1="49.39" x2="342.0" y2="49.39" stroke="#000" stroke-width="1.1"/>
<line x1="339.4" y1="46.19" x2="342.0" y2="46.19" stroke="#000" stroke-width="1.1"/>
<line x1="339.4" y1="43.71" x2="342.0" y2="43.71" stroke="#000" stroke-width="1.1"/>
<line x1="339.4" y1="41.68" x2="342.0" y2="41.68" stroke="#000" stroke-width="1.1"/>
<line x1="339.4" y1="39.97" x2="342.0" y2="39.97" stroke="#000" stroke-width="1.1"/>
<line x1="339.4" y1="38.48" x2="342.0" y2="38.48" stroke="#000" stroke-width="1.1"/>
<line x1="339.4" y1="37.17" x2="342.0" y2="37.17" stroke="#000" stroke-width="1.1"/>
<line x1="337.4" y1="36.00" x2="342.0" y2="36.00" stroke="#000" stroke-width="1.3"/>
<line x1="339.4" y1="28.29" x2="342.0" y2="28.29" stroke="#000" stroke-width="1.1"/>
<line x1="339.4" y1="23.79" x2="342.0" y2="23.79" stroke="#000" stroke-width="1.1"/>
<line x1="339.4" y1="20.59" x2="342.0" y2="20.59" stroke="#000" stroke-width="1.1"/>
<line x1="339.4" y1="18.11" x2="342.0" y2="18.11" stroke="#000" stroke-width="1.1"/>
<line x1="339.4" y1="16.08" x2="342.0" y2="16.08" stroke="#000" stroke-width="1.1"/>
<line x1="339.4" y1="14.37" x2="342.0" y2="14.37" stroke="#000" stroke-width="1.1"/>
<line x1="339.4" y1="12.88" x2="342.0" y2="12.88" stroke="#000" stroke-width="1.1"/>
<line x1="339.4" y1="11.57" x2="342.0" y2="11.57" stroke="#000" stroke-width="1.1"/>
<line x1="337.4" y1="10.40" x2="342.0" y2="10.40" stroke="#000" stroke-width="1.3"/>
<text x="335" y="141.00" text-anchor="end" font-size="10" font-family="'Liberation Sans', sans-serif">1</text>
<text x="335" y="115.40" text-anchor="end" font-size="10" font-family="'Liberation Sans', sans-serif">10</text>
<text x="335" y="89.80" text-anchor="end" font-size="10" font-family="'Liberation Sans', sans-serif">100</text>
<text x="335" y="64.20" text-anchor="end" font-size="10" font-family="'Liberation Sans', sans-serif">1,000</text>
<text x="335" y="38.60" text-anchor="end" font-size="10" font-family="'Liberation Sans', sans-serif">10,000</text>
<text x="335" y="13.00" text-anchor="end" font-size="10" font-family="'Liberation Sans', sans-serif">100,000</text>
<text transform="translate(294.6,73.2) rotate(-90) scale(1,0.85)" text-anchor="middle" font-size="10.6" font-family="'Liberation Sans', sans-serif">ng/mL</text>
<line x1="356.00" y1="153.0" x2="556.50" y2="153.0" stroke="#000" stroke-width="1.3"/>
<line x1="356.50" y1="153.0" x2="356.50" y2="157.3" stroke="#000" stroke-width="1.3"/>
<text x="356.50" y="169.5" text-anchor="middle" font-size="10" font-family="'Liberation Sans', sans-serif">0</text>
<line x1="396.40" y1="153.0" x2="396.40" y2="157.3" stroke="#000" stroke-width="1.3"/>
<text x="396.40" y="169.5" text-anchor="middle" font-size="10" font-family="'Liberation Sans', sans-serif">2</text>
<line x1="436.30" y1="153.0" x2="436.30" y2="157.3" stroke="#000" stroke-width="1.3"/>
<text x="436.30" y="169.5" text-anchor="middle" font-size="10" font-family="'Liberation Sans', sans-serif">4</text>
<line x1="476.20" y1="153.0" x2="476.20" y2="157.3" stroke="#000" stroke-width="1.3"/>
<text x="476.20" y="169.5" text-anchor="middle" font-size="10" font-family="'Liberation Sans', sans-serif">6</text>
<line x1="516.10" y1="153.0" x2="516.10" y2="157.3" stroke="#000" stroke-width="1.3"/>
<text x="516.10" y="169.5" text-anchor="middle" font-size="10" font-family="'Liberation Sans', sans-serif">8</text>
<line x1="556.00" y1="153.0" x2="556.00" y2="157.3" stroke="#000" stroke-width="1.3"/>
<text x="556.00" y="169.5" text-anchor="middle" font-size="10" font-family="'Liberation Sans', sans-serif">10</text>
<text x="456" y="179.9" text-anchor="middle" font-size="10.5" font-family="'Liberation Sans', sans-serif">Hours</text>
<line x1="342.7" y1="94.91" x2="555.8" y2="94.91" stroke="#000" stroke-width="1.1" stroke-dasharray="1,1"/>
<text x="558.8" y="95.3" font-size="8.4" font-family="'Liberation Sans', sans-serif">SAMHSA</text>
<line x1="342.7" y1="102.61" x2="555.8" y2="102.61" stroke="#000" stroke-width="1.1" stroke-dasharray="1,1"/>
<text x="558.8" y="103" font-size="8.4" font-family="'Liberation Sans', sans-serif">DRUID</text>
<line x1="342.7" y1="105.09" x2="555.8" y2="105.09" stroke="#000" stroke-width="1.1" stroke-dasharray="1,1"/>
<text x="558.8" y="111.7" font-size="8.4" font-family="'Liberation Sans', sans-serif">Talloires</text>
<line x1="342.7" y1="120.51" x2="555.8" y2="120.51" stroke="#000" stroke-width="1.1" stroke-dasharray="1,1"/>
<text x="558.8" y="122.5" font-size="8.4" font-family="'Liberation Sans', sans-serif">LOQ</text>
<polyline points="361.49,119.45 366.48,107.57 371.46,84.46 376.45,74.16 381.44,63.94 386.43,55.90 391.41,51.82 396.40,48.56 401.39,48.33 406.38,45.72 411.36,45.18 416.35,46.67 426.32,50.15 436.30,52.05 446.27,55.87 456.25,57.09 496.15,63.09 536.05,66.41" fill="none" stroke="#000" stroke-width="1.5" stroke-dasharray="4.9,2.15" stroke-dashoffset="5.68" stroke-linejoin="round"/>
<polyline points="361.49,119.25 366.48,109.06 371.46,87.31 376.45,75.17 381.44,66.14 386.43,62.65 391.41,66.56 396.40,67.28 401.39,60.64 406.38,61.60 411.36,59.30 416.35,60.90 426.32,62.00 436.30,63.41 446.27,67.71 456.25,69.33 496.15,70.74 536.05,75.57" fill="none" stroke="#000" stroke-width="1.6" stroke-linejoin="round"/>
<line x1="361.49" y1="119.45" x2="361.49" y2="111.34" stroke="#000" stroke-width="1.2"/><line x1="358.19" y1="111.34" x2="364.79" y2="111.34" stroke="#000" stroke-width="1.4"/>
<line x1="366.48" y1="107.57" x2="366.48" y2="96.84" stroke="#000" stroke-width="1.2"/><line x1="363.18" y1="96.84" x2="369.78" y2="96.84" stroke="#000" stroke-width="1.4"/>
<line x1="371.46" y1="84.46" x2="371.46" y2="72.74" stroke="#000" stroke-width="1.2"/><line x1="368.16" y1="72.74" x2="374.76" y2="72.74" stroke="#000" stroke-width="1.4"/>
<line x1="376.45" y1="74.16" x2="376.45" y2="61.27" stroke="#000" stroke-width="1.2"/><line x1="373.15" y1="61.27" x2="379.75" y2="61.27" stroke="#000" stroke-width="1.4"/>
<line x1="381.44" y1="63.94" x2="381.44" y2="55.25" stroke="#000" stroke-width="1.2"/><line x1="378.14" y1="55.25" x2="384.74" y2="55.25" stroke="#000" stroke-width="1.4"/>
<line x1="386.43" y1="55.90" x2="386.43" y2="48.50" stroke="#000" stroke-width="1.2"/><line x1="383.12" y1="48.50" x2="389.73" y2="48.50" stroke="#000" stroke-width="1.4"/>
<line x1="391.41" y1="51.82" x2="391.41" y2="45.33" stroke="#000" stroke-width="1.2"/><line x1="388.11" y1="45.33" x2="394.71" y2="45.33" stroke="#000" stroke-width="1.4"/>
<line x1="396.40" y1="48.56" x2="396.40" y2="43.93" stroke="#000" stroke-width="1.2"/><line x1="393.10" y1="43.93" x2="399.70" y2="43.93" stroke="#000" stroke-width="1.4"/>
<line x1="401.39" y1="48.33" x2="401.39" y2="43.93" stroke="#000" stroke-width="1.2"/><line x1="398.09" y1="43.93" x2="404.69" y2="43.93" stroke="#000" stroke-width="1.4"/>
<line x1="406.38" y1="45.72" x2="406.38" y2="40.62" stroke="#000" stroke-width="1.2"/><line x1="403.07" y1="40.62" x2="409.68" y2="40.62" stroke="#000" stroke-width="1.4"/>
<line x1="411.36" y1="45.18" x2="411.36" y2="40.62" stroke="#000" stroke-width="1.2"/><line x1="408.06" y1="40.62" x2="414.66" y2="40.62" stroke="#000" stroke-width="1.4"/>
<line x1="416.35" y1="46.67" x2="416.35" y2="40.62" stroke="#000" stroke-width="1.2"/><line x1="413.05" y1="40.62" x2="419.65" y2="40.62" stroke="#000" stroke-width="1.4"/>
<line x1="426.32" y1="50.15" x2="426.32" y2="46.13" stroke="#000" stroke-width="1.2"/><line x1="423.02" y1="46.13" x2="429.62" y2="46.13" stroke="#000" stroke-width="1.4"/>
<line x1="436.30" y1="52.05" x2="436.30" y2="48.95" stroke="#000" stroke-width="1.2"/><line x1="433.00" y1="48.95" x2="439.60" y2="48.95" stroke="#000" stroke-width="1.4"/>
<line x1="446.27" y1="55.87" x2="446.27" y2="53.62" stroke="#000" stroke-width="1.2"/><line x1="442.97" y1="53.62" x2="449.57" y2="53.62" stroke="#000" stroke-width="1.4"/>
<line x1="456.25" y1="57.09" x2="456.25" y2="53.27" stroke="#000" stroke-width="1.2"/><line x1="452.95" y1="53.27" x2="459.55" y2="53.27" stroke="#000" stroke-width="1.4"/>
<line x1="496.15" y1="63.09" x2="496.15" y2="60.51" stroke="#000" stroke-width="1.2"/><line x1="492.85" y1="60.51" x2="499.45" y2="60.51" stroke="#000" stroke-width="1.4"/>
<line x1="536.05" y1="66.41" x2="536.05" y2="62.85" stroke="#000" stroke-width="1.2"/><line x1="532.75" y1="62.85" x2="539.35" y2="62.85" stroke="#000" stroke-width="1.4"/>
<line x1="361.49" y1="119.25" x2="361.49" y2="126.95" stroke="#000" stroke-width="1.2"/><line x1="358.19" y1="126.95" x2="364.79" y2="126.95" stroke="#000" stroke-width="1.4"/>
<line x1="366.48" y1="109.06" x2="366.48" y2="117.09" stroke="#000" stroke-width="1.2"/><line x1="363.18" y1="117.09" x2="369.78" y2="117.09" stroke="#000" stroke-width="1.4"/>
<line x1="371.46" y1="87.31" x2="371.46" y2="95.13" stroke="#000" stroke-width="1.2"/><line x1="368.16" y1="95.13" x2="374.76" y2="95.13" stroke="#000" stroke-width="1.4"/>
<line x1="376.45" y1="75.17" x2="376.45" y2="80.91" stroke="#000" stroke-width="1.2"/><line x1="373.15" y1="80.91" x2="379.75" y2="80.91" stroke="#000" stroke-width="1.4"/>
<line x1="381.44" y1="66.14" x2="381.44" y2="69.99" stroke="#000" stroke-width="1.2"/><line x1="378.14" y1="69.99" x2="384.74" y2="69.99" stroke="#000" stroke-width="1.4"/>
<line x1="386.43" y1="62.65" x2="386.43" y2="66.39" stroke="#000" stroke-width="1.2"/><line x1="383.12" y1="66.39" x2="389.73" y2="66.39" stroke="#000" stroke-width="1.4"/>
<line x1="391.41" y1="66.56" x2="391.41" y2="81.17" stroke="#000" stroke-width="1.2"/><line x1="388.11" y1="81.17" x2="394.71" y2="81.17" stroke="#000" stroke-width="1.4"/>
<line x1="396.40" y1="67.28" x2="396.40" y2="78.18" stroke="#000" stroke-width="1.2"/><line x1="393.10" y1="78.18" x2="399.70" y2="78.18" stroke="#000" stroke-width="1.4"/>
<line x1="401.39" y1="60.64" x2="401.39" y2="65.25" stroke="#000" stroke-width="1.2"/><line x1="398.09" y1="65.25" x2="404.69" y2="65.25" stroke="#000" stroke-width="1.4"/>
<line x1="406.38" y1="61.60" x2="406.38" y2="65.25" stroke="#000" stroke-width="1.2"/><line x1="403.07" y1="65.25" x2="409.68" y2="65.25" stroke="#000" stroke-width="1.4"/>
<line x1="411.36" y1="59.30" x2="411.36" y2="65.25" stroke="#000" stroke-width="1.2"/><line x1="408.06" y1="65.25" x2="414.66" y2="65.25" stroke="#000" stroke-width="1.4"/>
<line x1="416.35" y1="60.90" x2="416.35" y2="65.25" stroke="#000" stroke-width="1.2"/><line x1="413.05" y1="65.25" x2="419.65" y2="65.25" stroke="#000" stroke-width="1.4"/>
<line x1="426.32" y1="62.00" x2="426.32" y2="64.80" stroke="#000" stroke-width="1.2"/><line x1="423.02" y1="64.80" x2="429.62" y2="64.80" stroke="#000" stroke-width="1.4"/>
<line x1="436.30" y1="63.41" x2="436.30" y2="66.22" stroke="#000" stroke-width="1.2"/><line x1="433.00" y1="66.22" x2="439.60" y2="66.22" stroke="#000" stroke-width="1.4"/>
<line x1="446.27" y1="67.71" x2="446.27" y2="70.43" stroke="#000" stroke-width="1.2"/><line x1="442.97" y1="70.43" x2="449.57" y2="70.43" stroke="#000" stroke-width="1.4"/>
<line x1="456.25" y1="69.33" x2="456.25" y2="71.65" stroke="#000" stroke-width="1.2"/><line x1="452.95" y1="71.65" x2="459.55" y2="71.65" stroke="#000" stroke-width="1.4"/>
<line x1="496.15" y1="70.74" x2="496.15" y2="74.89" stroke="#000" stroke-width="1.2"/><line x1="492.85" y1="74.89" x2="499.45" y2="74.89" stroke="#000" stroke-width="1.4"/>
<line x1="536.05" y1="75.57" x2="536.05" y2="79.13" stroke="#000" stroke-width="1.2"/><line x1="532.75" y1="79.13" x2="539.35" y2="79.13" stroke="#000" stroke-width="1.4"/>
<polygon points="361.49,117.52 364.13,121.95 358.84,121.95" fill="none" stroke="#000" stroke-width="1.2" stroke-linejoin="miter" stroke-miterlimit="10"/>
<polygon points="366.48,105.65 369.12,110.07 363.83,110.07" fill="none" stroke="#000" stroke-width="1.2" stroke-linejoin="miter" stroke-miterlimit="10"/>
<polygon points="371.46,82.53 374.11,86.96 368.82,86.96" fill="none" stroke="#000" stroke-width="1.2" stroke-linejoin="miter" stroke-miterlimit="10"/>
<polygon points="376.45,72.24 379.09,76.66 373.81,76.66" fill="none" stroke="#000" stroke-width="1.2" stroke-linejoin="miter" stroke-miterlimit="10"/>
<polygon points="381.44,62.01 384.08,66.44 378.79,66.44" fill="none" stroke="#000" stroke-width="1.2" stroke-linejoin="miter" stroke-miterlimit="10"/>
<polygon points="386.43,53.97 389.07,58.40 383.78,58.40" fill="none" stroke="#000" stroke-width="1.2" stroke-linejoin="miter" stroke-miterlimit="10"/>
<polygon points="391.41,49.89 394.06,54.32 388.77,54.32" fill="none" stroke="#000" stroke-width="1.2" stroke-linejoin="miter" stroke-miterlimit="10"/>
<polygon points="396.40,46.64 399.04,51.06 393.76,51.06" fill="none" stroke="#000" stroke-width="1.2" stroke-linejoin="miter" stroke-miterlimit="10"/>
<polygon points="401.39,46.40 404.03,50.83 398.74,50.83" fill="none" stroke="#000" stroke-width="1.2" stroke-linejoin="miter" stroke-miterlimit="10"/>
<polygon points="406.38,43.80 409.02,48.22 403.73,48.22" fill="none" stroke="#000" stroke-width="1.2" stroke-linejoin="miter" stroke-miterlimit="10"/>
<polygon points="411.36,43.25 414.01,47.68 408.72,47.68" fill="none" stroke="#000" stroke-width="1.2" stroke-linejoin="miter" stroke-miterlimit="10"/>
<polygon points="416.35,44.74 418.99,49.17 413.71,49.17" fill="none" stroke="#000" stroke-width="1.2" stroke-linejoin="miter" stroke-miterlimit="10"/>
<polygon points="426.32,48.22 428.97,52.65 423.68,52.65" fill="none" stroke="#000" stroke-width="1.2" stroke-linejoin="miter" stroke-miterlimit="10"/>
<polygon points="436.30,50.12 438.94,54.55 433.66,54.55" fill="none" stroke="#000" stroke-width="1.2" stroke-linejoin="miter" stroke-miterlimit="10"/>
<polygon points="446.27,53.94 448.92,58.37 443.63,58.37" fill="none" stroke="#000" stroke-width="1.2" stroke-linejoin="miter" stroke-miterlimit="10"/>
<polygon points="456.25,55.16 458.89,59.59 453.61,59.59" fill="none" stroke="#000" stroke-width="1.2" stroke-linejoin="miter" stroke-miterlimit="10"/>
<polygon points="496.15,61.16 498.79,65.59 493.51,65.59" fill="none" stroke="#000" stroke-width="1.2" stroke-linejoin="miter" stroke-miterlimit="10"/>
<polygon points="536.05,64.48 538.69,68.91 533.41,68.91" fill="none" stroke="#000" stroke-width="1.2" stroke-linejoin="miter" stroke-miterlimit="10"/>
<circle cx="361.49" cy="119.25" r="2.95" fill="#000"/>
<circle cx="366.48" cy="109.06" r="2.95" fill="#000"/>
<circle cx="371.46" cy="87.31" r="2.95" fill="#000"/>
<circle cx="376.45" cy="75.17" r="2.95" fill="#000"/>
<circle cx="381.44" cy="66.14" r="2.95" fill="#000"/>
<circle cx="386.43" cy="62.65" r="2.95" fill="#000"/>
<circle cx="391.41" cy="66.56" r="2.95" fill="#000"/>
<circle cx="396.40" cy="67.28" r="2.95" fill="#000"/>
<circle cx="401.39" cy="60.64" r="2.95" fill="#000"/>
<circle cx="406.38" cy="61.60" r="2.95" fill="#000"/>
<circle cx="411.36" cy="59.30" r="2.95" fill="#000"/>
<circle cx="416.35" cy="60.90" r="2.95" fill="#000"/>
<circle cx="426.32" cy="62.00" r="2.95" fill="#000"/>
<circle cx="436.30" cy="63.41" r="2.95" fill="#000"/>
<circle cx="446.27" cy="67.71" r="2.95" fill="#000"/>
<circle cx="456.25" cy="69.33" r="2.95" fill="#000"/>
<circle cx="496.15" cy="70.74" r="2.95" fill="#000"/>
<circle cx="536.05" cy="75.57" r="2.95" fill="#000"/>
</svg>
</body></html>
